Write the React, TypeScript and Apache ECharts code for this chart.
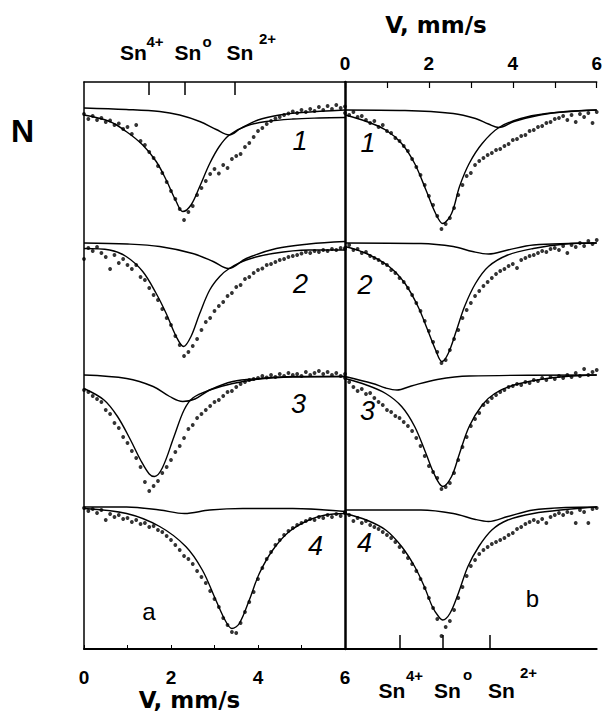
import React, { useEffect, useRef } from "react";
import * as echarts from "echarts";

// Mössbauer spectra (119Sn), relative transmission N in % vs velocity V (mm/s).
// Panel a (left) and panel b (right), four spectra each, stacked vertically.

const V_STEP = 0.1; // channel spacing of the measured points, mm/s
const STACK_OFFSETS = [0, 27, 53.4, 79.8]; // vertical shift of spectra 1..4
const Y_MIN = -8.2;
const Y_MAX = 105.2;

const V_TICK_LABELS = [0, 2, 4, 6];
const SN_TICKS_A = [1.49, 2.32, 3.47]; // Sn4+, Sn0, Sn2+ on panel a
const SN_TICKS_B = [1.3, 2.34, 3.45]; // Sn4+, Sn0, Sn2+ on panel b
const SPECTRUM_NUMBERS = ["1", "2", "3", "4"];
const PANEL_LETTERS = ["a", "b"];

// ---- panel a: measured points (V = 0.0 .. 6.0, step 0.1) ----
const A1_DOTS = [
  98.8, 97.8, 98.4, 97.6, 98.0, 97.2, 97.5, 96.6, 96.9, 95.8,
  96.2, 94.8, 96.6, 93.4, 92.6, 91.2, 90.0, 88.4, 87.0, 85.2,
  83.4, 81.8, 79.8, 77.6, 79.2, 80.4, 82.6, 84.0, 85.4, 86.8,
  87.8, 86.9, 88.6, 88.0, 89.8, 90.4, 90.8, 92.2, 93.0, 94.2,
  95.4, 96.0, 96.8, 97.4, 97.9, 98.2, 98.6, 98.9, 99.3, 99.0,
  99.6, 99.2, 99.8, 99.4, 100.2, 99.6, 100.4, 99.8, 100.6, 100.0,
  100.3,
];
const A2_DOTS = [
  96.8, 99.0, 98.4, 99.2, 98.0, 97.2, 94.8, 97.6, 96.0, 96.8,
  95.6, 94.8, 95.6, 93.2, 92.6, 91.0, 89.6, 88.6, 86.8, 85.0,
  83.6, 81.4, 79.6, 77.4, 78.2, 79.4, 80.8, 82.6, 84.2, 85.0,
  86.4, 87.4, 88.2, 89.4, 90.0, 91.2, 91.6, 92.8, 93.2, 94.0,
  94.6, 94.9, 95.6, 95.8, 96.2, 96.6, 96.8, 97.2, 97.4, 97.6,
  97.9, 98.2, 98.0, 98.4, 98.2, 98.6, 98.4, 98.8, 98.6, 99.0,
  98.8,
];
const A3_DOTS = [
  97.0, 96.6, 95.8, 95.2, 94.6, 93.0, 92.2, 90.4, 89.4, 87.6,
  86.4, 84.8, 83.4, 81.6, 78.6, 76.8, 77.8, 78.8, 80.4, 81.6,
  83.0, 84.6, 85.8, 87.4, 89.2, 90.0, 91.4, 92.2, 93.0, 93.8,
  94.6, 95.0, 95.8, 96.6, 96.8, 97.6, 98.2, 98.6, 99.0, 99.2,
  99.4, 99.8, 99.5, 100.0, 99.6, 100.2, 99.8, 100.4, 100.0, 100.2,
  99.8, 100.6, 100.0, 100.4, 100.8, 100.2, 100.6, 100.0, 100.4, 99.8,
  100.2,
];
const A4_DOTS = [
  99.8, 99.2, 99.6, 98.8, 99.4, 97.4, 98.6, 98.0, 98.4, 97.6,
  97.8, 97.0, 97.4, 96.6, 96.8, 96.0, 96.2, 95.4, 95.0, 94.2,
  93.4, 92.4, 91.4, 90.2, 89.6, 88.6, 87.2, 86.0, 84.8, 83.2,
  81.6, 80.0, 77.8, 76.4, 75.0, 74.8, 76.8, 79.0, 81.0, 83.0,
  85.6, 87.8, 89.6, 91.0, 92.4, 93.4, 94.4, 95.2, 95.8, 96.4,
  96.8, 97.2, 97.6, 97.4, 98.0, 97.8, 98.4, 98.0, 98.6, 98.2,
  98.8,
];

// ---- panel a: fitted lines [V, N] ----
const A1_FIT_MAIN = [
  [0, 98.6], [0.59, 97.3], [0.97, 95.3], [1.35, 92.6], [1.66, 89.3], [1.89, 85.6],
  [2.12, 81.3], [2.27, 79.3], [2.46, 80.6], [2.66, 84.3], [2.89, 88.9], [3.11, 92.3],
  [3.34, 94.6], [3.73, 96.4], [4.19, 97.3], [4.8, 97.8], [5.4, 98.0], [6, 98.1],
];
const A1_FIT_SIDE = [
  [0, 100], [0.97, 99.7], [1.74, 99.3], [2.2, 98.6], [2.66, 97.3], [3.04, 95.7],
  [3.34, 94.6], [3.6, 95.9], [4.0, 97.6], [4.5, 98.6], [5.0, 99.1], [6, 99.6],
];
const A2_FIT_MAIN = [
  [0, 98.9], [0.59, 98.6], [0.97, 97.3], [1.35, 94.3], [1.66, 89.9], [1.89, 85.9],
  [2.12, 81.3], [2.29, 79.3], [2.46, 81.3], [2.66, 85.9], [2.89, 90.6], [3.12, 93.3],
  [3.34, 94.9], [3.73, 96.6], [4.34, 97.9], [5.17, 98.6], [6, 98.6],
];
const A2_FIT_SIDE = [
  [0, 100], [1.0, 99.8], [1.74, 99.3], [2.5, 97.9], [2.97, 96.3], [3.32, 94.9],
  [3.73, 96.9], [4.42, 98.9], [5.17, 99.8], [6, 100.3],
];
const A3_FIT_MAIN = [
  [0, 97.3], [0.46, 95], [0.77, 91.7], [1.07, 87], [1.3, 83], [1.5, 80.2],
  [1.62, 79.7], [1.8, 81.4], [2.07, 87.7], [2.3, 93], [2.5, 95.4], [2.89, 97],
  [3.42, 98.3], [4.04, 99.2], [4.8, 99.6], [6, 99.7],
];
const A3_FIT_SIDE = [
  [0, 100], [0.98, 99.3], [1.59, 97.7], [1.97, 95.7], [2.27, 94.7], [2.55, 95.2],
  [2.89, 97], [3.42, 98.7], [4.04, 99.3], [4.8, 99.7], [6, 99.7],
];
const A4_FIT_MAIN = [
  [0, 99.7], [0.98, 98.7], [1.74, 96.1], [2.34, 92.1], [2.72, 87.4], [3.03, 81.4],
  [3.26, 77.1], [3.4, 75.7], [3.57, 76.7], [3.8, 81.4], [4.03, 86.7], [4.34, 91.4],
  [4.72, 95.1], [5.17, 97.4], [5.55, 98.4], [6, 98.7],
];
const A4_FIT_SIDE = [
  [0, 100], [0.98, 100], [1.74, 99.4], [2.31, 98.7], [2.89, 99.4], [3.65, 99.7],
  [4.8, 99.7], [6, 99.1],
];

// ---- panel b: measured points (V = 0.0 .. 6.0, step 0.1) ----
const B1_DOTS = [
  99.0, 98.6, 99.2, 98.2, 98.4, 97.6, 97.0, 97.4, 96.2, 96.6,
  95.4, 95.0, 94.0, 93.4, 92.4, 91.4, 89.8, 88.2, 86.6, 84.6,
  82.4, 80.6, 78.4, 75.8, 76.8, 78.0, 80.0, 82.6, 84.6, 86.4,
  87.0, 88.6, 89.4, 90.0, 90.6, 91.0, 91.6, 91.8, 92.4, 92.8,
  93.6, 93.8, 94.4, 94.6, 95.4, 95.6, 96.2, 96.4, 97.0, 97.2,
  97.8, 98.0, 98.4, 97.6, 98.6, 97.2, 98.8, 98.2, 99.0, 97.0,
  99.2,
];
const B2_DOTS = [
  99.0, 99.6, 98.6, 98.8, 98.0, 98.2, 97.4, 97.0, 96.6, 96.0,
  95.6, 94.6, 94.0, 93.0, 92.2, 91.0, 89.6, 88.0, 86.4, 84.4,
  82.4, 80.2, 78.2, 76.0, 76.6, 78.6, 80.8, 82.6, 85.0, 86.6,
  88.0, 89.4, 90.4, 91.4, 92.2, 93.0, 93.8, 94.4, 94.8, 95.4,
  95.8, 95.0, 96.6, 97.0, 97.4, 97.6, 98.0, 98.4, 98.2, 98.8,
  99.0, 98.6, 99.4, 98.0, 99.6, 99.2, 100.0, 99.4, 100.4, 99.8,
  100.6,
];
const B3_DOTS = [
  99.4, 98.6, 97.6, 96.8, 97.2, 96.2, 96.4, 95.4, 94.6, 94.0,
  93.0, 92.6, 91.8, 91.4, 90.6, 89.8, 88.8, 87.4, 85.8, 83.8,
  81.8, 80.6, 79.4, 77.2, 77.6, 78.4, 80.4, 83.0, 85.6, 87.6,
  89.8, 91.2, 92.4, 94.0, 94.6, 95.4, 96.0, 96.6, 97.0, 97.6,
  97.8, 98.2, 98.0, 98.6, 98.4, 99.0, 98.8, 99.4, 99.0, 99.6,
  99.2, 99.8, 99.4, 100.0, 99.6, 100.4, 99.8, 101.2, 100.0, 100.6,
  101.0,
];
const B4_DOTS = [
  99.0, 98.4, 97.2, 97.8, 96.8, 97.2, 96.4, 96.0, 95.6, 95.0,
  94.4, 93.8, 93.0, 92.0, 91.0, 89.8, 88.6, 87.2, 85.6, 83.8,
  81.8, 79.8, 77.6, 74.2, 76.0, 77.2, 79.4, 81.8, 84.0, 86.2,
  88.2, 89.4, 90.6, 91.4, 92.0, 92.6, 93.0, 93.4, 93.8, 94.4,
  94.8, 95.6, 96.0, 96.6, 97.0, 97.4, 97.0, 97.6, 96.8, 98.0,
  98.4, 98.8, 98.4, 99.0, 98.8, 96.8, 99.4, 99.0, 96.8, 99.6,
  99.8,
];

// ---- panel b: fitted lines [V, N] ----
const B1_FIT_MAIN = [
  [0, 98.6], [0.51, 97.3], [0.97, 95.6], [1.35, 92.9], [1.66, 88.9], [1.93, 83.6],
  [2.16, 78.9], [2.33, 76.9], [2.54, 78.9], [2.73, 84.3], [2.96, 88.9], [3.27, 92.9],
  [3.67, 96.1], [4.19, 97.9], [4.8, 98.9], [6, 99.6],
];
const B1_FIT_SIDE = [
  [0, 99.6], [1.43, 99.5], [2.58, 98.9], [3.11, 97.9], [3.42, 96.8], [3.67, 96.1],
  [4.03, 97.3], [4.65, 98.6], [5.26, 99.3], [6, 99.6],
];
const B2_FIT_MAIN = [
  [0, 99.3], [0.51, 97.9], [1.05, 95.3], [1.43, 91.9], [1.74, 87.3], [1.97, 82.6],
  [2.16, 78.6], [2.31, 76.3], [2.46, 77.9], [2.66, 82.6], [2.85, 87.3], [3.11, 91.9],
  [3.42, 95.3], [3.88, 97.6], [4.49, 98.9], [5.26, 99.8], [6, 100],
];
const B2_FIT_SIDE = [
  [0, 100], [1.81, 99.9], [2.58, 99.3], [3.04, 98.3], [3.42, 97.8], [3.88, 98.6],
  [4.49, 99.6], [6, 100],
];
const B3_FIT_MAIN = [
  [0, 99.3], [0.51, 98], [0.97, 96.3], [1.35, 93.7], [1.66, 89.7], [1.93, 84.3],
  [2.12, 80.3], [2.33, 77.7], [2.54, 79.7], [2.73, 84.3], [2.96, 89.7], [3.27, 94],
  [3.57, 96.3], [4.03, 98], [4.65, 99.1], [5.26, 99.7], [6, 100],
];
const B3_FIT_SIDE = [
  [0, 99.7], [0.66, 98.3], [0.97, 97.4], [1.24, 97.0], [1.58, 97.8], [2.2, 99.1],
  [2.96, 99.8], [6, 100],
];
const B4_FIT_MAIN = [
  [0, 98.7], [0.51, 97.4], [0.97, 95.4], [1.35, 92.1], [1.66, 88.1], [1.89, 84.1],
  [2.08, 80.1], [2.23, 78.1], [2.33, 77.4], [2.5, 78.7], [2.7, 82.7], [2.93, 88.1],
  [3.19, 92.1], [3.5, 95.4], [3.88, 97.4], [4.49, 98.7], [5.26, 99.5], [6, 100],
];
const B4_FIT_SIDE = [
  [0, 99.4], [0.66, 99.4], [1.81, 99.4], [2.58, 98.7], [3.11, 97.5], [3.42, 97.1],
  [3.88, 98.1], [4.49, 99.4], [5.26, 99.9], [6, 100],
];

const PANEL_A = [
  { dots: A1_DOTS, main: A1_FIT_MAIN, side: A1_FIT_SIDE },
  { dots: A2_DOTS, main: A2_FIT_MAIN, side: A2_FIT_SIDE },
  { dots: A3_DOTS, main: A3_FIT_MAIN, side: A3_FIT_SIDE },
  { dots: A4_DOTS, main: A4_FIT_MAIN, side: A4_FIT_SIDE },
];
const PANEL_B = [
  { dots: B1_DOTS, main: B1_FIT_MAIN, side: B1_FIT_SIDE },
  { dots: B2_DOTS, main: B2_FIT_MAIN, side: B2_FIT_SIDE },
  { dots: B3_DOTS, main: B3_FIT_MAIN, side: B3_FIT_SIDE },
  { dots: B4_DOTS, main: B4_FIT_MAIN, side: B4_FIT_SIDE },
];

const INK = "#000";
const SANS = '"Liberation Sans", Arial, sans-serif';

function panelSeries(spectra: any[], xAxisIndex: number, yAxisIndex: number) {
  const out: any[] = [];
  spectra.forEach((s, k) => {
    const off = STACK_OFFSETS[k];
    const lineCommon = {
      type: "line",
      xAxisIndex,
      yAxisIndex,
      symbol: "none",
      showSymbol: false,
      smooth: 0.35,
      silent: true,
      lineStyle: { color: INK, width: 1.4 },
      z: 3,
    };
    out.push({ ...lineCommon, data: s.side.map((p: number[]) => [p[0], p[1] - off]) });
    out.push({ ...lineCommon, data: s.main.map((p: number[]) => [p[0], p[1] - off]) });
    out.push({
      type: "scatter",
      xAxisIndex,
      yAxisIndex,
      symbol: "circle",
      symbolSize: 3.8,
      silent: true,
      itemStyle: { color: INK },
      z: 4,
      data: s.dots.map((t: number, i: number) => [+(i * V_STEP).toFixed(1), t - off]),
    });
  });
  return out;
}

function txt(text: string, x: number, y: number, font: string, align = "center") {
  return {
    type: "text",
    silent: true,
    style: {
      text,
      x,
      y,
      font,
      fill: INK,
      textAlign: align,
      textVerticalAlign: "middle",
      align,
      verticalAlign: "middle",
    },
  };
}

function snLabels(y: number, supY: number[], xs: number[], supXs: number[]) {
  const sups = ["4+", "o", "2+"];
  const items: any[] = [];
  xs.forEach((x, i) => {
    items.push(txt("Sn", x, y, `bold 21px ${SANS}`));
    items.push(txt(sups[i], supXs[i], supY[i], `bold 15px ${SANS}`));
  });
  return items;
}

const evenLabel = (v: number) => {
  const r = Math.round(v);
  return V_TICK_LABELS.includes(r) && Math.abs(v - r) < 1e-6 ? String(r) : "";
};

export default function App() {
  const ref = useRef<HTMLDivElement>(null);

  useEffect(() => {
    if (!ref.current) return;
    const chart = echarts.init(ref.current, undefined, { renderer: "svg" });

    const tickLabel = {
      color: INK,
      fontFamily: SANS,
      fontWeight: "bold",
      fontSize: 19,
      formatter: evenLabel,
    };

    const numFont = `italic 27px ${SANS}`;
    const letterFont = `24px ${SANS}`;
    const vFont = 'bold 23px "DejaVu Sans", sans-serif';

    chart.setOption({
      animation: false,
      backgroundColor: "#fff",
      grid: [
        { left: 84, top: 82, width: 261, height: 567 },
        { left: 345, top: 82, width: 259, height: 567 },
      ],
      xAxis: [
        {
          gridIndex: 0,
          type: "value",
          position: "bottom",
          min: 0,
          max: 6,
          interval: 1,
          axisLine: { onZero: false, lineStyle: { color: INK, width: 2 } },
          axisTick: { inside: true, length: 4, lineStyle: { color: INK, width: 1 } },
          axisLabel: { ...tickLabel, margin: 19 },
          splitLine: { show: false },
        },
        {
          gridIndex: 0,
          type: "value",
          position: "top",
          min: 0,
          max: 6,
          axisLine: { onZero: false, lineStyle: { color: INK, width: 1.5 } },
          axisTick: {
            inside: true,
            length: 13,
            customValues: SN_TICKS_A,
            lineStyle: { color: INK, width: 1.5 },
          },
          axisLabel: { show: false },
          splitLine: { show: false },
        },
        {
          gridIndex: 1,
          type: "value",
          position: "top",
          min: 0,
          max: 6,
          interval: 1,
          axisLine: { onZero: false, lineStyle: { color: INK, width: 1.5 } },
          axisTick: { inside: true, length: 6, lineStyle: { color: INK, width: 1.2 } },
          axisLabel: { ...tickLabel, margin: 9 },
          splitLine: { show: false },
        },
        {
          gridIndex: 1,
          type: "value",
          position: "bottom",
          min: 0,
          max: 6,
          axisLine: { onZero: false, lineStyle: { color: INK, width: 2 } },
          axisTick: {
            inside: true,
            length: 14,
            customValues: SN_TICKS_B,
            lineStyle: { color: INK, width: 1.5 },
          },
          axisLabel: { show: false },
          splitLine: { show: false },
        },
      ],
      yAxis: [
        {
          gridIndex: 0,
          type: "value",
          min: Y_MIN,
          max: Y_MAX,
          axisLine: { show: true, onZero: false, lineStyle: { color: INK, width: 1.5 } },
          axisTick: { show: false },
          axisLabel: { show: false },
          splitLine: { show: false },
        },
        {
          gridIndex: 1,
          type: "value",
          min: Y_MIN,
          max: Y_MAX,
          axisLine: { show: true, onZero: false, lineStyle: { color: INK, width: 2.5 } },
          axisTick: { show: false },
          axisLabel: { show: false },
          splitLine: { show: false },
        },
      ],
      series: [...panelSeries(PANEL_A, 0, 0), ...panelSeries(PANEL_B, 2, 1)],
      graphic: [
        txt("N", 22.5, 131, `bold 32px ${SANS}`),
        txt("V, mm/s", 436, 25, vFont),
        txt("V, mm/s", 189.5, 700, vFont),
        ...snLabels(52.5, [41.7, 41, 38.3], [133.5, 188, 240], [155, 207, 267.5]),
        ...snLabels(690.4, [675.6, 674.5, 672], [392, 447.5, 501.5], [414.6, 467.5, 528.5]),
        txt(PANEL_LETTERS[0], 149, 611.5, letterFont),
        txt(PANEL_LETTERS[1], 532.5, 598.5, letterFont),
        txt(SPECTRUM_NUMBERS[0], 300, 141, numFont),
        txt(SPECTRUM_NUMBERS[1], 300.5, 284, numFont),
        txt(SPECTRUM_NUMBERS[2], 298.5, 404, numFont),
        txt(SPECTRUM_NUMBERS[3], 315.5, 546, numFont),
        txt(SPECTRUM_NUMBERS[0], 368, 142.5, numFont),
        txt(SPECTRUM_NUMBERS[1], 365, 285, numFont),
        txt(SPECTRUM_NUMBERS[2], 367.5, 411, numFont),
        txt(SPECTRUM_NUMBERS[3], 364.5, 543, numFont),
      ],
    });

    return () => chart.dispose();
  }, []);

  return (
    <div
      ref={ref}
      style={{ position: "fixed", left: 0, top: 0, width: 605, height: 717, background: "#fff" }}
    />
  );
}
